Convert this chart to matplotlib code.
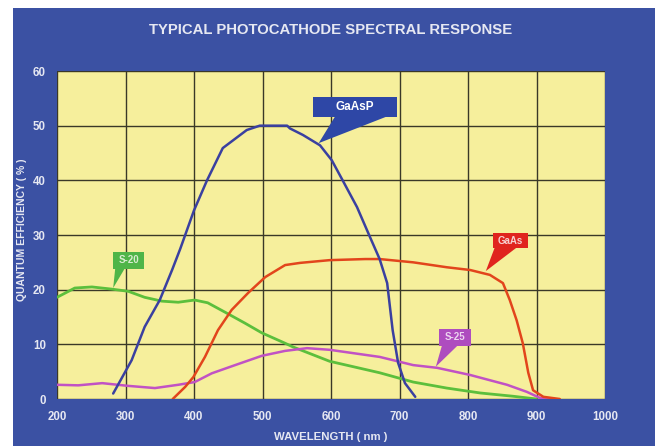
import matplotlib
matplotlib.use("Agg")
import matplotlib.pyplot as plt
from matplotlib.patches import Rectangle, Polygon

plt.rcParams['font.family'] = ['Liberation Sans', 'DejaVu Sans']
plt.rcParams['font.weight'] = 'bold'

# GaAsP (blue)
gaasp_nm = [282, 309, 328, 350, 368, 380, 400, 419, 442, 477, 496, 536, 540, 559, 584, 601,
            617, 638, 657, 671, 682, 690, 698, 708, 723]
gaasp_qe = [1.0, 7.1, 13.2, 18.1, 23.6, 27.5, 34.5, 40.0, 45.9, 49.2, 50.0, 50.0, 49.5, 48.3, 46.4, 43.7,
            40.0, 35.1, 29.6, 25.6, 21.2, 12.6, 6.6, 2.9, 0.4]

# GaAs (red)
gaas_nm = [369, 387, 399, 416, 435, 455, 479, 504, 533, 555, 598, 650, 671, 720, 769, 803,
           832, 851, 861, 871, 880, 888, 895, 910, 934]
gaas_qe = [0.0, 2.2, 4.0, 7.7, 12.6, 16.3, 19.4, 22.3, 24.5, 24.9, 25.4, 25.6, 25.6, 25.0, 24.1, 23.6,
           22.7, 21.2, 18.1, 14.4, 10.2, 4.8, 1.6, 0.4, 0.0]

# S-20 (green)
s20_nm = [200, 226, 251, 280, 304, 328, 353, 377, 401, 420, 445, 474, 499, 533, 545, 598,
          671, 720, 769, 818, 866, 900]
s20_qe = [18.6, 20.3, 20.5, 20.1, 19.7, 18.6, 17.9, 17.7, 18.1, 17.6, 15.9, 13.9, 12.1, 10.2, 9.5, 6.9,
          4.8, 3.1, 2.0, 1.1, 0.5, 0.0]

# S-25 (magenta)
s25_nm = [200, 231, 266, 304, 343, 377, 401, 426, 460, 499, 533, 565, 598, 671, 720, 755,
          803, 857, 886, 905, 925]
s25_qe = [2.6, 2.5, 2.9, 2.4, 2.0, 2.6, 3.1, 4.7, 6.2, 7.9, 8.8, 9.3, 9.0, 7.7, 6.2, 5.7,
          4.4, 2.6, 1.3, 0.2, 0.0]

x_ticks = [200, 300, 400, 500, 600, 700, 800, 900, 1000]
y_ticks = [0, 10, 20, 30, 40, 50, 60]

BG_BLUE = '#3b51a3'
YELLOW = '#f6ef9c'
GRID = '#3a3828'
TXT = '#e6e8f2'

fig = plt.figure(figsize=(6.55, 4.46), dpi=100)
fig.patch.set_facecolor('white')
fig.patches.append(Rectangle((13 / 655, 0), 1 - 13 / 655, 1 - 8 / 446, transform=fig.transFigure,
                             facecolor=BG_BLUE, edgecolor='none', zorder=-10))

ax = fig.add_axes([57 / 655, 47 / 446, 548 / 655, 328 / 446])
ax.set_facecolor(YELLOW)
ax.set_xlim(200, 1000)
ax.set_ylim(0, 60)
ax.set_xticks(x_ticks)
ax.set_yticks(y_ticks)
ax.grid(True, color=GRID, lw=1.0)
ax.set_axisbelow(True)
for s in ax.spines.values():
    s.set_visible(False)
ax.tick_params(length=0, colors=TXT, labelsize=8.3, pad=9)
ax.tick_params(axis='y', pad=8)

line_kw = dict(solid_joinstyle='round', solid_capstyle='round', zorder=3)
ax.plot(s20_nm, s20_qe, color='#5cbf3c', lw=2.0, **line_kw)
ax.plot(s25_nm, s25_qe, color='#c152c4', lw=1.8, **line_kw)
ax.plot(gaas_nm, gaas_qe, color='#e2451c', lw=1.8, **line_kw)
ax.plot(gaasp_nm, gaasp_qe, color='#3a40a0', lw=1.8, **line_kw)

fig.text(0.505, 1 - 30 / 446, 'TYPICAL PHOTOCATHODE SPECTRAL RESPONSE', ha='center', va='center',
         color=TXT, fontsize=10.7)
fig.text(0.505, 1 - 437 / 446, 'WAVELENGTH ( nm )', ha='center', va='center', color=TXT, fontsize=8.2)
fig.text(22 / 655, 1 - 230 / 446, 'QUANTUM EFFICIENCY ( % )', ha='center', va='center',
         rotation=90, color=TXT, fontsize=7.5)


def callout(label, x0, x1, y0, y1, b0, b1, tip, color, size=8, tcolor='white'):
    ax.add_patch(Rectangle((x0, y0), x1 - x0, y1 - y0, facecolor=color, edgecolor='none', zorder=5))
    ax.add_patch(Polygon([(b0, y0 + 0.1), (b1, y0 + 0.1), tip], closed=True, facecolor=color,
                         edgecolor='none', zorder=5))
    ax.text((x0 + x1) / 2, (y0 + y1) / 2, label, ha='center', va='center', color=tcolor,
            fontsize=size, zorder=6)


callout('GaAsP', 574, 696, 51.6, 55.2, 606, 682, (582, 46.8), '#2e47a6', 8.5)
callout('S-20', 282, 327, 23.8, 26.9, 285, 299, (282, 20.3), '#4fb548', 7, '#d8ecd0')
callout('GaAs', 836, 888, 27.6, 30.3, 839, 871, (826, 23.4), '#e0241e', 7, '#f6d0d0')
callout('S-25', 758, 804, 9.7, 12.8, 762, 785, (753, 5.9), '#ae4cbf', 7, '#ecd4f0')

fig.savefig('out.png', dpi=100)
